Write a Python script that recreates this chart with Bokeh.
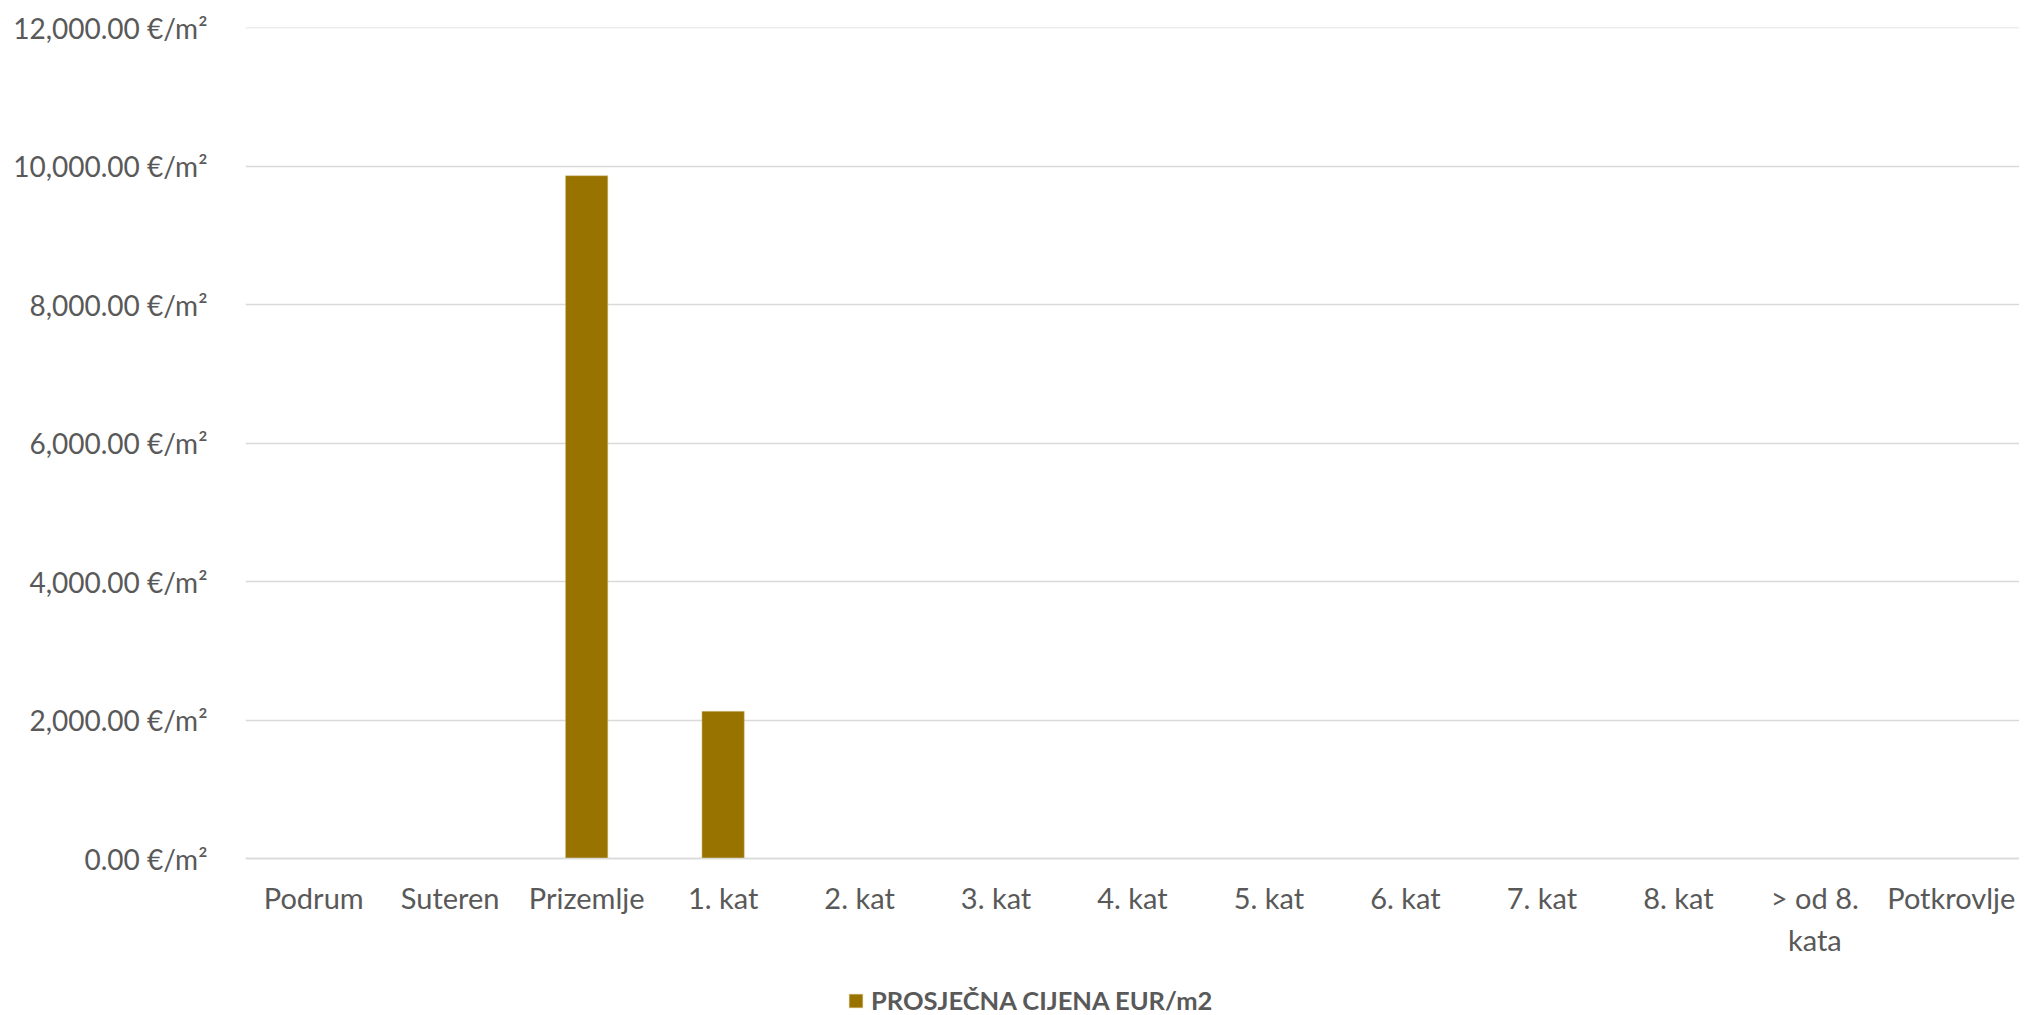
from bokeh.plotting import figure
from bokeh.models import ColumnDataSource, FixedTicker, Legend, LegendItem
from bokeh.embed import file_html
from bokeh.resources import INLINE

categories = ["Podrum", "Suteren", "Prizemlje", "1. kat", "2. kat", "3. kat", "4. kat",
              "5. kat", "6. kat", "7. kat", "8. kat", "> od 8.\nkata", "Potkrovlje"]
values = [0, 0, 9860, 2125, 0, 0, 0, 0, 0, 0, 0, 0, 0]
series_name = "PROSJEČNA CIJENA EUR/m2"
y_ticks = [0, 2000, 4000, 6000, 8000, 10000, 12000]
y_tick_labels = ["0.00 €/m²", "2,000.00 €/m²", "4,000.00 €/m²", "6,000.00 €/m²",
                 "8,000.00 €/m²", "10,000.00 €/m²", "12,000.00 €/m²"]

FONT = "Lato"
GREY = "#595959"
GOLD = "#997300"

# layout (pixels)
TOP = 27
PLOT_H = 831            # height of the 0..max value band
FRAME_H = 1015 - TOP    # frame extends down to hold axis labels and legend
y_max = max(y_ticks)
y_min = y_max - FRAME_H * y_max / PLOT_H

src = ColumnDataSource(dict(cat=categories, val=values))

p = figure(x_range=categories, y_range=(y_min, y_max + 0.01), frame_width=1774, frame_height=FRAME_H,
           output_backend="svg", toolbar_location=None,
           min_border_left=245, min_border_right=0, min_border_top=TOP, min_border_bottom=0)
p.outline_line_color = None

r = p.vbar(x="cat", top="val", width=0.31, source=src, fill_color=GOLD,
           line_color="#d8c38a", line_width=0.5)

p.yaxis.ticker = FixedTicker(ticks=y_ticks)
p.yaxis.major_label_overrides = {t: l for t, l in zip(y_ticks, y_tick_labels)}
p.yaxis.axis_line_color = None
p.yaxis.major_tick_line_color = None
p.yaxis.minor_tick_line_color = None
p.yaxis.major_label_text_font = FONT
p.yaxis.major_label_text_font_size = "28px"
p.yaxis.major_label_text_color = GREY
p.yaxis.major_label_standoff = 32

p.xaxis.fixed_location = 0
p.xaxis.axis_line_color = "#d9d9d9"
p.xaxis.axis_line_width = 1.5
p.xaxis.major_tick_line_color = None
p.xaxis.minor_tick_line_color = None
p.xaxis.major_label_text_font = FONT
p.xaxis.major_label_text_font_size = "29px"
p.xaxis.major_label_text_color = GREY
p.xaxis.major_label_standoff = 15

p.xgrid.grid_line_color = None
p.ygrid.grid_line_color = "#d9d9d9"
p.ygrid.grid_line_width = 1.5

legend = Legend(items=[LegendItem(label=series_name, renderers=[r])],
                orientation="horizontal", location=(602, 0),
                label_text_font=FONT, label_text_font_size="25.5px",
                label_text_font_style="bold", label_text_color=GREY,
                glyph_width=17, glyph_height=17, label_standoff=7,
                border_line_color=None, background_fill_alpha=0,
                margin=0, padding=0)
p.add_layout(legend, "center")

open("out.html", "w").write(file_html(p, INLINE))
